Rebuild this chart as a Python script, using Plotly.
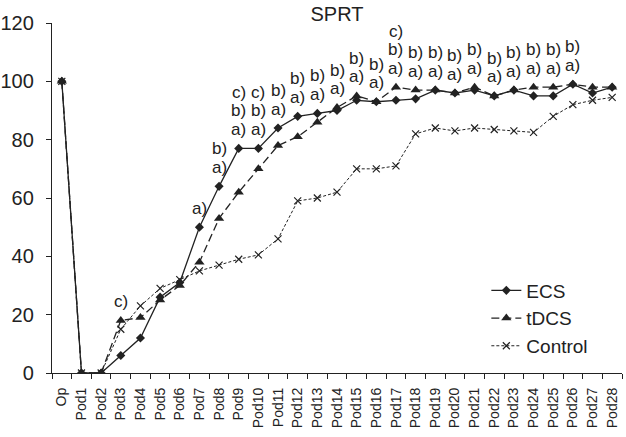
import plotly.graph_objects as go

categories = ["Op"] + [f"Pod{i}" for i in range(1, 29)]

ecs = [100, 0, 0, 6, 12, 26, 31, 50, 64, 77, 77, 84, 88, 89, 90, 93.5, 93, 93.5, 94,
       97, 96, 97, 95, 97, 95, 95, 99, 96, 98]
tdcs = [100, 0, 0, 18, 19, 25, 30, 38, 53, 62, 70, 78, 81, 86, 91, 95, 93, 98, 97,
        97, 96, 98, 95, 97, 98, 98, 99, 98, 98]
control = [100, 0, 0, 15, 23, 29, 32, 35, 37, 39, 40.5, 46, 59, 60, 62, 70, 70, 71, 82,
           84, 83, 84, 83.5, 83, 82.5, 88, 92, 93.5, 94.5]

# significance labels per category (bottom to top)
sig_labels = {
    "Pod3": ["c)"],
    "Pod7": ["a)"],
    "Pod8": ["a)", "b)"],
    "Pod9": ["a)", "b)", "c)"],
    "Pod10": ["a)", "b)", "c)"],
    "Pod11": ["a)", "b)"],
    "Pod12": ["a)", "b)"],
    "Pod13": ["a)", "b)"],
    "Pod14": ["a)", "b)"],
    "Pod15": ["a)", "b)"],
    "Pod16": ["a)", "b)"],
    "Pod17": ["a)", "b)", "c)"],
    "Pod18": ["a)", "b)"],
    "Pod19": ["a)", "b)"],
    "Pod20": ["a)", "b)"],
    "Pod21": ["a)", "b)"],
    "Pod22": ["a)", "b)"],
    "Pod23": ["a)", "b)"],
    "Pod24": ["a)", "b)"],
    "Pod25": ["a)", "b)"],
    "Pod26": ["a)", "b)"],
}

INK = "#222222"
FONT = "Liberation Sans, Arial, sans-serif"

fig = go.Figure()
fig.add_trace(go.Scatter(
    x=categories, y=ecs, name="ECS", mode="lines+markers",
    line=dict(color=INK, width=1.3),
    marker=dict(symbol="diamond", size=7, color=INK),
))
fig.add_trace(go.Scatter(
    x=categories, y=tdcs, name="tDCS", mode="lines+markers",
    line=dict(color=INK, width=1.3, dash="8px,4px"),
    marker=dict(symbol="triangle-up", size=9, color=INK),
))
fig.add_trace(go.Scatter(
    x=categories, y=control, name="Control", mode="lines+markers",
    line=dict(color=INK, width=1, dash="3px,2px"),
    marker=dict(symbol="x-thin", size=7, color=INK, line=dict(color=INK, width=1.2)),
))

annotations = []
for cat, labels in sig_labels.items():
    i = categories.index(cat)
    base = max(ecs[i], tdcs[i])
    for k, lab in enumerate(labels):
        annotations.append(dict(
            x=cat, y=base, xref="x", yref="y", text=lab, showarrow=False,
            yanchor="middle", xanchor="center", yshift=19 + 18.5 * k,
            font=dict(family=FONT, size=17, color=INK),
        ))

fig.update_layout(
    width=626, height=437,
    margin=dict(l=52, r=4, t=23, b=64, autoexpand=False),
    paper_bgcolor="white", plot_bgcolor="white",
    font=dict(family=FONT, color=INK),
    title=dict(text="SPRT", x=0.5, xref="paper", xanchor="center",
               y=(437 - 14) / 437, yref="container", yanchor="middle",
               font=dict(family=FONT, size=20, color=INK)),
    showlegend=True,
    legend=dict(x=0.762, y=0.29, xanchor="left", yanchor="top",
                bgcolor="rgba(0,0,0,0)", font=dict(family=FONT, size=19, color=INK),
                tracegroupgap=0),
    annotations=annotations,
)
fig.update_xaxes(
    type="category", categoryorder="array", categoryarray=categories,
    range=[-0.5, 28.5], tickson="boundaries", ticks="outside", ticklen=5,
    tickwidth=1.2, tickcolor=INK, showline=True, linecolor=INK, linewidth=1.3,
    tickangle=-90, tickfont=dict(family=FONT, size=14, color=INK),
    showgrid=False, zeroline=False, ticklabelstandoff=8, automargin=False,
)
fig.update_yaxes(
    range=[0, 120], tick0=0, dtick=20, ticks="outside", ticklen=5,
    tickwidth=1.2, tickcolor=INK, showline=True, linecolor=INK, linewidth=1.3,
    tickfont=dict(family=FONT, size=20, color=INK),
    showgrid=False, zeroline=False, ticklabelstandoff=8, automargin=False,
)

fig.write_html("out.html", config={"displayModeBar": False},
               post_script="document.body.style.margin='0';")
